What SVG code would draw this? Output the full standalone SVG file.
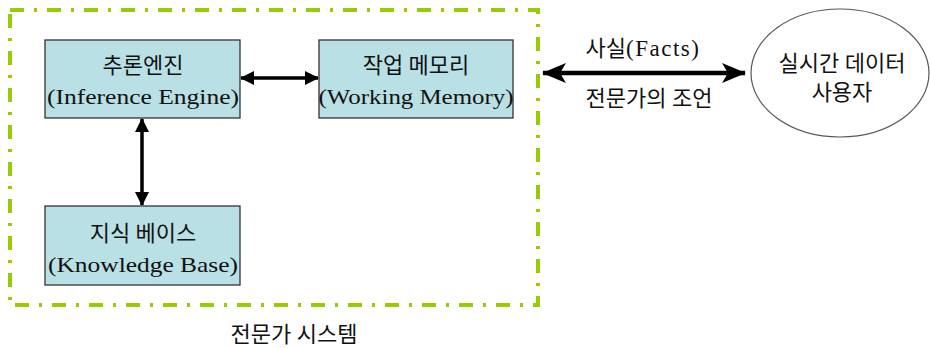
<svg xmlns="http://www.w3.org/2000/svg" width="930" height="348" viewBox="0 0 930 348">
<style>
text{font-family:"Liberation Serif","Noto Sans CJK KR",serif;font-size:21px;fill:#111;text-anchor:middle}
.ko{font-size:22px}
.box{fill:#b9e0e4;stroke:#333;stroke-width:1.3}
.frame{fill:none;stroke:#99cc00;stroke-width:4;stroke-dasharray:14 10 3 10}
.arr{stroke:#000;stroke-width:3.5;fill:none}
.big{stroke:#000;stroke-width:4.5;fill:none}
</style>
<defs>
<marker id="ah" markerUnits="userSpaceOnUse" viewBox="0 0 14 14" refX="13" refY="7" markerWidth="14" markerHeight="14" orient="auto-start-reverse"><path d="M0,0 L14,7 L0,14 z" fill="#000"/></marker>
<marker id="ahb" markerUnits="userSpaceOnUse" viewBox="0 0 24 20" refX="23" refY="10" markerWidth="24" markerHeight="20" orient="auto-start-reverse"><path d="M0,0 L24,10 L0,20 L6,10 z" fill="#000"/></marker>
</defs>
<g id="system-frame"><rect class="frame" x="10" y="10" width="528" height="295"/></g>
<g id="connectors">
<line class="arr" x1="241" y1="78" x2="318" y2="78" marker-start="url(#ah)" marker-end="url(#ah)"/>
<line class="arr" x1="142" y1="119" x2="142" y2="205" marker-start="url(#ah)" marker-end="url(#ah)"/>
<line class="big" x1="543" y1="73" x2="745" y2="73" marker-start="url(#ahb)" marker-end="url(#ahb)"/>
</g>
<g id="inference-engine">
<rect class="box" x="45" y="40" width="195" height="78"/>
<text class="ko" x="143" y="73">추론엔진</text>
<text x="143" y="104" textLength="192" lengthAdjust="spacingAndGlyphs">(Inference Engine)</text>
</g>
<g id="working-memory">
<rect class="box" x="319" y="40" width="194" height="78"/>
<text class="ko" x="416" y="73">작업 메모리</text>
<text x="416" y="104" textLength="195" lengthAdjust="spacingAndGlyphs">(Working Memory)</text>
</g>
<g id="knowledge-base">
<rect class="box" x="45" y="206" width="195" height="79"/>
<text class="ko" x="143" y="241">지식 베이스</text>
<text x="143" y="272" textLength="190" lengthAdjust="spacingAndGlyphs">(Knowledge Base)</text>
</g>
<g id="user">
<ellipse cx="840" cy="73" rx="89" ry="64" fill="#fff" stroke="#555" stroke-width="1.2"/>
<text class="ko" x="842" y="71">실시간 데이터</text>
<text class="ko" x="842" y="100">사용자</text>
</g>
<g id="labels">
<text x="643" y="56"><tspan class="ko">사실</tspan><tspan font-size="23" letter-spacing="1.5">(Facts)</tspan></text>
<text class="ko" x="649" y="106">전문가의 조언</text>
<text class="ko" x="294" y="342">전문가 시스템</text>
</g>
</svg>
